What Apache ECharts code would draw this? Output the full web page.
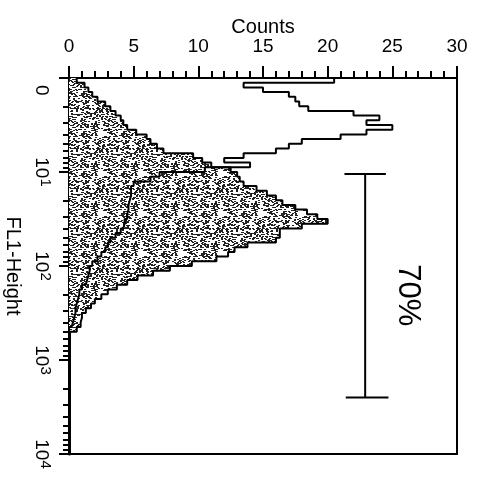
<!DOCTYPE html>
<html>
<head>
<meta charset="utf-8">
<script src="https://cdn.jsdelivr.net/npm/echarts@6/dist/echarts.min.js"></script>
<style>
  html, body { margin: 0; padding: 0; background: #fff; }
  #chart { width: 477px; height: 485px; }
</style>
</head>
<body>
<div id="chart"></div>
<script>
// bins are 0.05 decade wide, starting at 10^0
var binWidth = 0.05;

// stippled histogram (counts per bin)
var filledCounts = [
    0.6, 1.2, 1.5, 1.8, 2.2, 2.8, 3.2, 3.6, 4.0, 4.2,
    4.5, 5.2, 6.0, 6.3, 6.8, 7.3, 9.6, 10.3, 11.0, 12.5,
    13.0, 13.2, 13.5, 14.5, 15.3, 16.0, 16.5, 17.5, 18.4, 19.2,
    20.0, 18.0, 16.3, 16.3, 16.0, 13.8, 12.8, 12.3, 11.4, 9.5,
    7.8, 6.5, 5.3, 4.5, 3.7, 3.0, 2.5, 2.0, 1.7, 1.3,
    1.0, 0.9, 0.9, 0.6
];

// open (outline only) histogram
var outlineCounts = [
    20.5, 13.5, 15.0, 17.0, 17.5, 17.8, 18.5, 22.0, 24.0, 23.0,
    25.0, 23.0, 21.0, 18.0, 17.0, 16.0, 13.5, 12.0, 14.0, 10.5,
    7.0, 6.3, 5.0, 4.8, 4.8, 4.7, 4.6, 4.6, 4.5, 4.5,
    4.3, 4.2, 4.0, 3.6, 3.2, 3.0, 2.8, 2.5, 2.2, 1.8,
    1.6, 1.5, 1.4, 1.3, 1.0, 0.8, 0.7, 0.6, 0.5, 0.5,
    0.4, 0.3, 0.2, 0
];

var decadeTicks = [1, 10, 100, 1000, 10000];
// first label ("0") sits a little below the top edge, as in the print
var decadeLabelAt = [1.35, 10, 100, 1000, 10000];
var countTicks = [0, 5, 10, 15, 20, 25, 30];

// gate marker: count position, FL1 range, label
var gateCount = 22.9;
var gateRange = [10.5, 2500];
var gateLabel = '70%';
var gateLabelPos = [26.2, 205];

var FONT = 'Liberation Sans, Arial, sans-serif';

function binLo(k) { return Math.pow(10, k * binWidth); }
function binHi(k) { return Math.pow(10, (k + 1) * binWidth); }

// step outline points from bins
function stepPoints(counts) {
    var pts = [];
    for (var k = 0; k < counts.length; k++) {
        pts.push([counts[k], binLo(k)]);
        pts.push([counts[k], binHi(k)]);
    }
    pts.push([0, binHi(counts.length - 1)]);
    return pts;
}

var minorTicks = [];
for (var d = 0; d < 4; d++) {
    for (var m = 2; m <= 9; m++) minorTicks.push(m * Math.pow(10, d));
}

// stipple texture (fixed hash pattern, looks like a scanned dot screen)
var TS = 40;
var tile = document.createElement('canvas');
tile.width = TS; tile.height = TS;
var tctx = tile.getContext('2d');
tctx.fillStyle = '#fff';
tctx.fillRect(0, 0, TS, TS);
tctx.fillStyle = '#222';
for (var i = 0; i < TS; i++) {
    for (var j = 0; j < TS; j++) {
        var h = Math.imul(i * 374761 + j * 668265, 2654435761) >>> 0;
        h = (h ^ (h >>> 13)) >>> 0;
        h = Math.imul(h, 1274126177) >>> 0;
        if ((h >>> 8) % 100 < 22) tctx.fillRect(i, j, 2, 1);
    }
}

var binData = filledCounts.map(function (c, k) { return [c, binLo(k), binHi(k)]; });

var myChart = echarts.init(document.getElementById('chart'));

var option = {
    animation: false,
    backgroundColor: '#fff',
    grid: {
        left: 69, top: 78, right: 20, bottom: 31,
        outerBoundsMode: 'none',
        show: true, borderColor: '#000', borderWidth: 2
    },
    xAxis: {
        type: 'value',
        position: 'top',
        min: 0, max: 30, interval: 5,
        name: 'Counts',
        nameLocation: 'middle',
        nameGap: 41,
        nameMoveOverlap: false,
        nameTextStyle: { fontFamily: FONT, fontSize: 20, color: '#000' },
        axisLine: { lineStyle: { color: '#000', width: 2 } },
        axisTick: { inside: false, length: 12, lineStyle: { color: '#000', width: 2 } },
        minorTick: { show: true, splitNumber: 5, length: 7, lineStyle: { color: '#000', width: 2 } },
        axisLabel: {
            fontFamily: FONT, fontSize: 19, color: '#000', margin: 22,
            customValues: countTicks
        },
        splitLine: { show: false }
    },
    yAxis: [{
        type: 'log',
        logBase: 10,
        min: 1, max: 10000,
        inverse: true,
        name: 'FL1-Height',
        nameLocation: 'middle',
        nameRotate: -90,
        nameGap: 46,
        nameMoveOverlap: false,
        nameTextStyle: { fontFamily: FONT, fontSize: 20, color: '#000' },
        axisLine: { lineStyle: { color: '#000', width: 3 } },
        axisTick: { inside: false, length: 10, lineStyle: { color: '#000', width: 2 }, customValues: decadeTicks },
        axisLabel: {
            rotate: -90,
            margin: 16,
            customValues: decadeLabelAt,
            formatter: function (v) {
                if (v < 2) return '{b|0}';
                return '{b|10}{s|' + Math.round(Math.log10(v)) + '}';
            },
            rich: {
                b: { fontFamily: FONT, fontSize: 19, color: '#000', lineHeight: 24 },
                s: { fontFamily: FONT, fontSize: 15, color: '#000', verticalAlign: 'top' }
            }
        },
        splitLine: { show: false }
    }, {
        type: 'log',
        logBase: 10,
        min: 1, max: 10000,
        inverse: true,
        position: 'left',
        offset: 0,
        axisLine: { show: false },
        axisTick: { inside: false, length: 6, lineStyle: { color: '#000', width: 2 }, customValues: minorTicks },
        axisLabel: { show: false },
        splitLine: { show: false }
    }],
    series: [{
        type: 'custom',
        name: 'filled',
        data: binData,
        encode: { x: 0, y: [1, 2] },
        renderItem: function (params, api) {
            var p0 = api.coord([0, api.value(1)]);
            var p1 = api.coord([api.value(0), api.value(2)]);
            return {
                type: 'rect',
                shape: { x: p0[0], y: p0[1], width: p1[0] - p0[0], height: p1[1] - p0[1] + 0.5 },
                style: { fill: { image: tile, repeat: 'repeat' } }
            };
        },
        z: 1
    }, {
        type: 'line',
        name: 'filled outline',
        data: stepPoints(filledCounts),
        showSymbol: false,
        lineStyle: { color: '#000', width: 2 },
        z: 2
    }, {
        type: 'line',
        name: 'open',
        data: stepPoints(outlineCounts),
        showSymbol: false,
        lineStyle: { color: '#000', width: 2 },
        z: 3
    }, {
        type: 'custom',
        name: 'gate',
        data: [[gateCount, gateRange[0], gateRange[1]]],
        renderItem: function (params, api) {
            var c = api.value(0);
            var top = api.coord([c, api.value(1)]);
            var bot = api.coord([c, api.value(2)]);
            var capL = api.coord([c - 1.6, api.value(1)]);
            var capR = api.coord([c + 1.6, api.value(1)]);
            var capL2 = api.coord([c - 1.5, api.value(2)]);
            var capR2 = api.coord([c + 1.8, api.value(2)]);
            var lp = api.coord(gateLabelPos);
            var ls = { stroke: '#000', lineWidth: 2 };
            return {
                type: 'group',
                children: [
                    { type: 'line', shape: { x1: top[0], y1: top[1], x2: bot[0], y2: bot[1] }, style: ls },
                    { type: 'line', shape: { x1: capL[0], y1: capL[1], x2: capR[0], y2: capR[1] }, style: ls },
                    { type: 'line', shape: { x1: capL2[0], y1: capL2[1], x2: capR2[0], y2: capR2[1] }, style: ls },
                    {
                        type: 'text', x: lp[0], y: lp[1], rotation: -Math.PI / 2,
                        style: {
                            text: gateLabel, fontFamily: FONT, fontSize: 31, fill: '#000',
                            align: 'center', verticalAlign: 'middle'
                        }
                    }
                ]
            };
        },
        z: 4
    }]
};

myChart.setOption(option);
</script>
</body>
</html>
